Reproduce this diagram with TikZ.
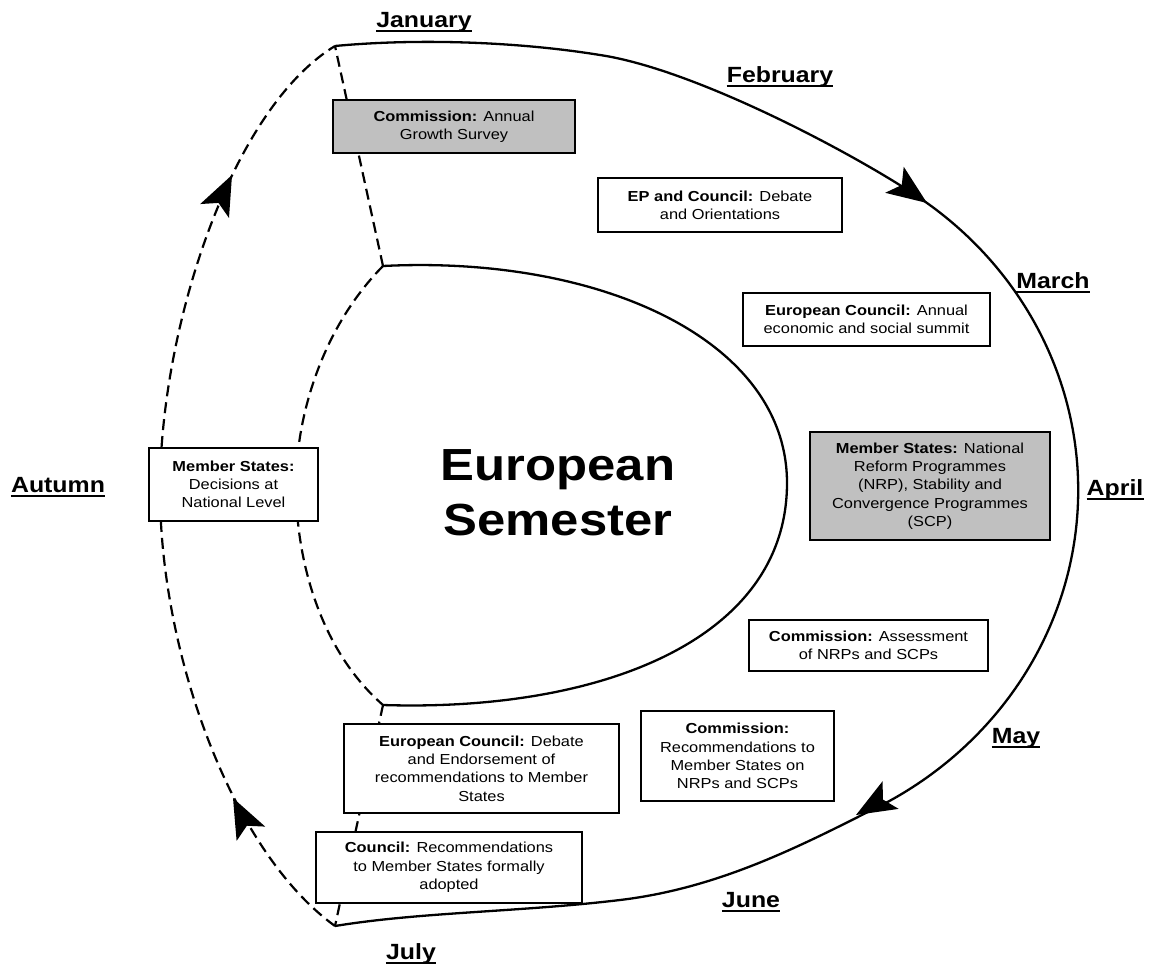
\documentclass[tikz,border=0pt]{standalone}
\usepackage{fontspec}
\setmainfont{Liberation Sans}[FakeStretch=1.13]
\usetikzlibrary{calc}
\definecolor{boxgray}{RGB}{192,192,192}
\begin{document}
\begin{tikzpicture}[x=1pt,y=-1pt,
  box/.style={draw, line width=2pt, fill=white, align=center, inner sep=0pt, font=\fontsize{14.5}{18.3}\selectfont},
  graybox/.style={box, fill=boxgray},
  month/.style={inner sep=0pt, anchor=base, font=\fontsize{22}{26}\selectfont\bfseries},
  solidline/.style={line width=2.3pt, line join=round},
  dashline/.style={line width=2.2pt, dash pattern=on 11pt off 6pt},
  ahead/.pic={\fill (0,0) -- (-40,-16) -- (-31,0) -- (-40,16) -- cycle;},
]
\useasboundingbox (0,0) rectangle (1153,964);

% key points
\coordinate (jan) at (335,46);
\coordinate (jul) at (335,926);
\coordinate (aut) at (160,490);
\coordinate (itop) at (383,266);
\coordinate (ibot) at (383,705);
\coordinate (irgt) at (787,483);
\coordinate (ilft) at (296,485);

% outer solid curve (January -> July, clockwise)
\draw[solidline] (jan) .. controls (420,38) and (520,42) .. (600,55)
  .. controls (700,70) and (870,162.4) .. (927,203)
  arc[start angle=-53.13, end angle=60, x radius=378, y radius=359]
  .. controls (801,846) and (720,888) .. (620,900)
  .. controls (520,912) and (420,912) .. (jul);

% outer dashed curve (July -> Autumn -> January)
\draw[dashline] (jul) .. controls (230,850) and (160,650) .. (aut)
  .. controls (160,330) and (230,110) .. (jan);

% inner shape
\draw[solidline] (itop) .. controls (600,255) and (787,340) .. (irgt)
  .. controls (787,640) and (600,712) .. (ibot);
\draw[dashline] (itop) .. controls (320,330) and (296,420) .. (ilft)
  .. controls (296,560) and (320,650) .. (ibot);

% dashed links inner <-> outer
\draw[dashline] (itop) -- (jan);
\draw[dashline] (ibot) -- (jul);

% arrowheads
\coordinate (a1) at (927,203);
\coordinate (a2) at (856,815);
\coordinate (a3) at (233,798);
\coordinate (a4) at (232,175);
\pic[rotate=-35.5] at (a1) {ahead};
\pic[rotate=-150] at (a2) {ahead};
\pic[rotate=116.6] at (a3) {ahead};
\pic[rotate=64.2] at (a4) {ahead};

% boxes
\node[graybox, minimum width=242pt, minimum height=53pt] (b1) at (454,126.5) {\textbf{Commission:} Annual\\Growth Survey};
\node[box, minimum width=244pt, minimum height=54pt] (b2) at (720,205) {\textbf{EP and Council:} Debate\\and Orientations};
\node[box, minimum width=247pt, minimum height=53pt] (b3) at (866.5,319.5) {\textbf{European Council:} Annual\\economic and social summit};
\node[graybox, minimum width=240pt, minimum height=108pt] (b4) at (930,486) {\textbf{Member States:} National\\Reform Programmes\\(NRP), Stability and\\Convergence Programmes\\(SCP)};
\node[box, minimum width=239pt, minimum height=51pt] (b5) at (868.5,645.5) {\textbf{Commission:} Assessment\\of NRPs and SCPs};
\node[box, minimum width=193pt, minimum height=90pt] (b6) at (737.5,756) {\textbf{Commission:}\\Recommendations to\\Member States on\\NRPs and SCPs};
\node[box, minimum width=275pt, minimum height=89pt] (b7) at (481.5,768.5) {\textbf{European Council:} Debate\\and Endorsement of\\recommendations to Member\\States};
\node[box, minimum width=266pt, minimum height=71pt] (b8) at (449,867.5) {\textbf{Council:} Recommendations\\to Member States formally\\adopted};
\node[box, minimum width=169pt, minimum height=73pt] (b9) at (233.5,484.5) {\textbf{Member States:}\\Decisions at\\National Level};

% centre title
\node[inner sep=0pt, align=center, font=\fontsize{45}{55}\selectfont\bfseries] (title) at (558,493) {European\\Semester};

% month labels
\foreach \n/\t/\x/\y in {m1/January/424/27, m2/February/780/82, m3/March/1053/288, m4/April/1115/495, m5/May/1016/743, m6/June/751/907, m7/July/411/959, m8/Autumn/58/492}{
  \node[month] (\n) at (\x,\y) {\t};
  \draw[line width=2pt] ($(\n.base west)+(0,3.5)$) -- ($(\n.base east)+(0,3.5)$);
}
\end{tikzpicture}
\end{document}
